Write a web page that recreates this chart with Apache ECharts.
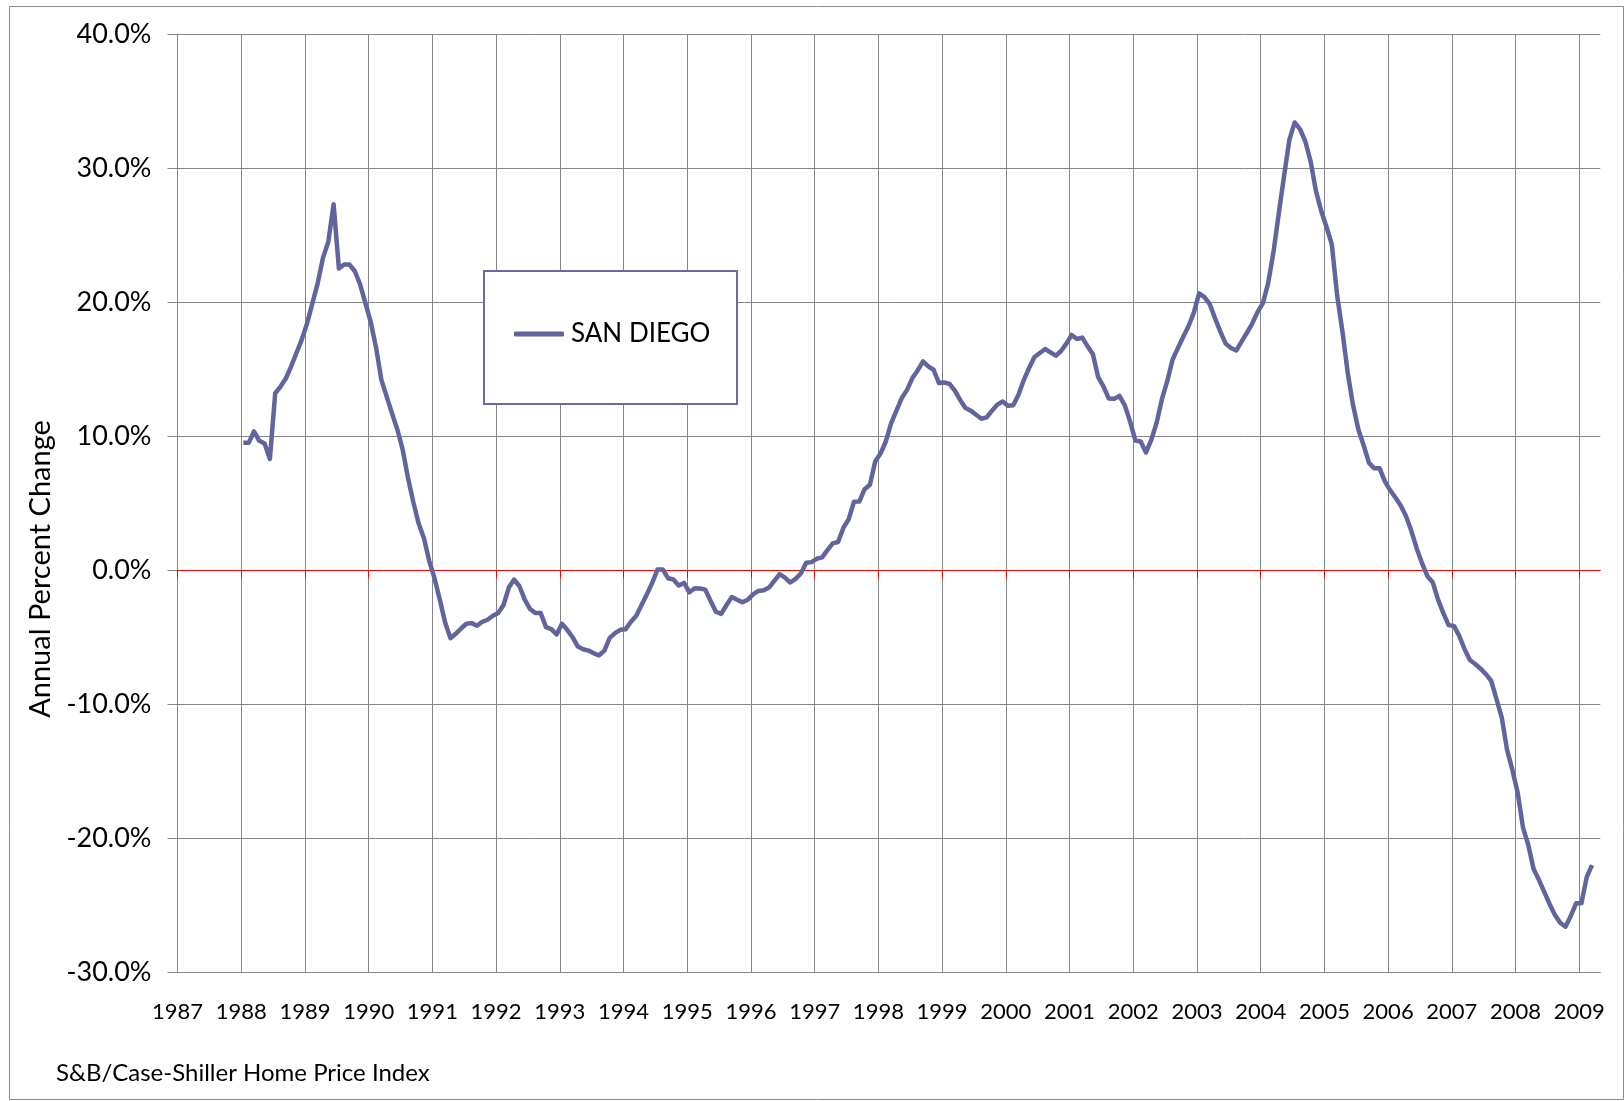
<!DOCTYPE html>
<html>
<head>
<meta charset="utf-8">
<title>San Diego home prices, annual percent change</title>
<script src="https://cdn.jsdelivr.net/npm/echarts@6/dist/echarts.min.js"></script>
<style>
  html, body { margin: 0; padding: 0; background: #ffffff; }
  #chart { width: 1624px; height: 1101px; }
</style>
</head>
<body>
<div id="chart"></div>
<script>
// monthly values, Jan 1988 .. Mar 2009 (annual % change)
const firstYear = 1988;
const seriesName = 'SAN DIEGO';
const sanDiego = [
     9.5, 9.5, 10.35, 9.65, 9.45, 8.3, 13.2, 13.7, 14.3, 15.2, 16.2, 17.2,            // 1988
     18.4, 19.9, 21.4, 23.3, 24.5, 27.3, 22.5, 22.8, 22.8, 22.3, 21.3, 19.9,          // 1989
     18.5, 16.6, 14.2, 12.95, 11.7, 10.5, 9.0, 6.9, 5.1, 3.5, 2.4, 0.7,               // 1990
     -0.6, -2.2, -3.9, -5.07, -4.75, -4.35, -4.0, -3.95, -4.15, -3.85, -3.7, -3.4,    // 1991
     -3.2, -2.6, -1.3, -0.7, -1.2, -2.2, -2.9, -3.2, -3.2, -4.25, -4.4, -4.8,         // 1992
     -4.0, -4.45, -5.0, -5.7, -5.9, -6.0, -6.2, -6.35, -6.0, -5.05, -4.7, -4.45,      // 1993
     -4.4, -3.85, -3.4, -2.6, -1.8, -0.95, 0.05, 0.05, -0.6, -0.7, -1.15, -0.95,      // 1994
     -1.65, -1.35, -1.37, -1.45, -2.3, -3.1, -3.26, -2.6, -2.0, -2.2, -2.4, -2.2,     // 1995
     -1.8, -1.55, -1.5, -1.3, -0.8, -0.3, -0.55, -0.92, -0.65, -0.25, 0.55, 0.6,      // 1996
     0.85, 0.95, 1.5, 2.0, 2.1, 3.15, 3.8, 5.1, 5.12, 6.04, 6.37, 8.1,                // 1997
     8.7, 9.6, 10.97, 11.9, 12.84, 13.45, 14.33, 14.9, 15.57, 15.2, 14.95, 13.96,     // 1998
     14.0, 13.9, 13.4, 12.7, 12.1, 11.9, 11.6, 11.3, 11.4, 11.9, 12.35, 12.58,        // 1999
     12.26, 12.3, 13.1, 14.2, 15.1, 15.9, 16.2, 16.5, 16.25, 16.0, 16.35, 16.9,       // 2000
     17.55, 17.25, 17.35, 16.7, 16.1, 14.4, 13.7, 12.8, 12.78, 13.0, 12.3, 11.1,      // 2001
     9.67, 9.6, 8.78, 9.72, 11.0, 12.76, 14.1, 15.7, 16.57, 17.4, 18.2, 19.2,         // 2002
     20.65, 20.37, 19.85, 18.8, 17.8, 16.9, 16.57, 16.39, 17.05, 17.7, 18.4, 19.25,   // 2003
     19.9, 21.4, 23.7, 26.6, 29.4, 32.1, 33.4, 32.9, 32.0, 30.5, 28.3, 26.8,          // 2004
     25.6, 24.3, 20.5, 17.8, 14.7, 12.3, 10.5, 9.3, 8.0, 7.6, 7.6, 6.6,               // 2005
     5.95, 5.4, 4.8, 4.0, 2.9, 1.6, 0.5, -0.45, -0.9, -2.2, -3.2, -4.1,               // 2006
     -4.16, -4.9, -5.9, -6.7, -7.0, -7.35, -7.75, -8.25, -9.6, -11.0, -13.4, -14.9,   // 2007
     -16.6, -19.2, -20.5, -22.3, -23.1, -24.0, -24.9, -25.7, -26.3, -26.6, -25.8, -24.85, // 2008
     -24.85, -22.9, -22.0                                                             // 2009
];

// year ticks on the x axis
const yearTicks = [
     1987, 1988, 1989, 1990, 1991, 1992, 1993, 1994, 1995, 1996, 1997, 1998,
     1999, 2000, 2001, 2002, 2003, 2004, 2005, 2006, 2007, 2008, 2009,
];

// axis ranges (x in decimal years)
const xMin = 1987;
const xMax = 2009.33;
const yMin = -30;
const yMax = 40;
const yStep = 10;

const yTitle = 'Annual Percent Change';
const sourceNote = 'S&B/Case-Shiller Home Price Index';

const FONT = 'Lato, "Open Sans", sans-serif';
const LINE_COLOR = '#62649E';
const GRID_COLOR = '#868686';

// each monthly value sits a little after the first of its month
const points = sanDiego.map((v, i) => [firstYear + (i + 0.4) / 12, v]);

const chart = echarts.init(document.getElementById('chart'));

const option = {
     backgroundColor: '#FFFFFF',
     animation: false,
     grid: {
          left: 177.5,
          right: 23.7,
          top: 34,
          bottom: 128.7,
     },
     legend: {
          show: true,
          left: 514,
          top: 318,
          padding: 0,
          z: 20,
          itemWidth: 50,
          itemHeight: 5,
          itemGap: 0,
          textStyle: { fontFamily: FONT, fontSize: 26, color: '#000', lineHeight: 32, padding: [0, 0, 0, 2] },
          data: [{ name: seriesName, icon: 'roundRect' }],
     },
     xAxis: [
          {
               type: 'value',
               position: 'bottom',
               min: xMin,
               max: xMax,
               interval: 1,
               axisLine: { onZero: false, lineStyle: { color: GRID_COLOR, width: 1 } },
               axisTick: { show: false },
               axisLabel: {
                    fontFamily: FONT,
                    fontSize: 22,
                    color: '#000',
                    margin: 29,
                    customValues: yearTicks,
                    formatter: (v) => String(v),
               },
               splitLine: { show: true, showMaxLine: false, lineStyle: { color: GRID_COLOR, width: 1 } },
          },
          {
               // red zero line with ticks hanging down
               type: 'value',
               position: 'bottom',
               min: xMin,
               max: xMax,
               interval: 1,
               axisLine: { onZero: true, lineStyle: { color: '#FF0000', width: 1 } },
               axisTick: { show: true, length: 8, customValues: yearTicks, lineStyle: { color: '#FF0000', width: 1 } },
               axisLabel: { show: false },
               splitLine: { show: false },
          },
     ],
     yAxis: {
          type: 'value',
          min: yMin,
          max: yMax,
          interval: yStep,
          axisLine: { show: true, onZero: false, lineStyle: { color: GRID_COLOR, width: 1 } },
          axisTick: { show: true, length: 10, lineStyle: { color: GRID_COLOR, width: 1 } },
          axisLabel: {
               fontFamily: FONT,
               fontSize: 27,
               color: '#000',
               margin: 26,
               formatter: (v) => v.toFixed(1) + '%',
          },
          splitLine: { show: true, lineStyle: { color: GRID_COLOR, width: 1 } },
     },
     series: [
          {
               name: seriesName,
               type: 'line',
               xAxisIndex: 0,
               yAxisIndex: 0,
               data: points,
               symbol: 'none',
               color: LINE_COLOR,
               lineStyle: { width: 4.5, color: LINE_COLOR, join: 'round' },
               z: 5,
          },
     ],
     graphic: [
          {
               // outer chart frame
               type: 'rect',
               left: 7,
               top: 4,
               shape: { width: 1614, height: 1093 },
               style: { fill: 'none', stroke: '#8C8C8C', lineWidth: 1 },
               silent: true,
          },
          {
               // legend box
               type: 'rect',
               left: 483,
               top: 270,
               shape: { width: 253, height: 133 },
               style: { fill: '#FFFFFF', stroke: '#6B6BA3', lineWidth: 2 },
               z: 3,
               silent: true,
          },
          {
               type: 'text',
               x: 41,
               y: 569,
               rotation: Math.PI / 2,
               style: {
                    text: yTitle,
                    fontFamily: FONT,
                    fontSize: 29,
                    fill: '#000',
                    align: 'center',
                    verticalAlign: 'middle',
               },
               silent: true,
          },
          {
               type: 'text',
               x: 56,
               y: 1073,
               style: {
                    text: sourceNote,
                    fontFamily: FONT,
                    fontSize: 24,
                    fill: '#000',
                    align: 'left',
                    verticalAlign: 'middle',
               },
               silent: true,
          },
     ],
};

chart.setOption(option);
</script>
</body>
</html>
